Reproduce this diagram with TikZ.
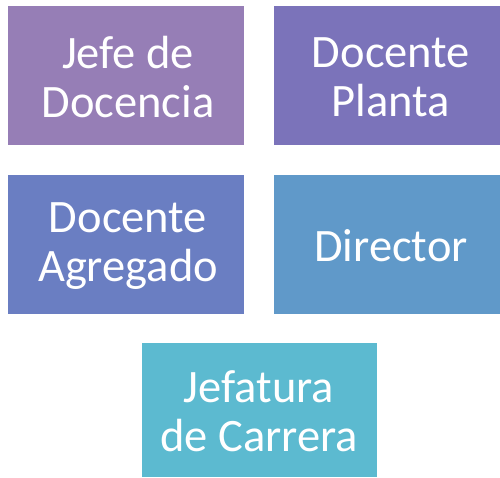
\documentclass[tikz,border=0pt]{standalone}
\usepackage{fontspec}
\setmainfont{Carlito}
\definecolor{cA}{HTML}{967EB6}
\definecolor{cB}{HTML}{7B73BA}
\definecolor{cC}{HTML}{6A7EC2}
\definecolor{cD}{HTML}{6099C9}
\definecolor{cE}{HTML}{5CBAD0}
\tikzset{
  boxnode/.style={text=white, align=center, inner sep=0pt,
    font=\fontsize{46.5}{49}\selectfont}
}
\begin{document}
\begin{tikzpicture}[x=1pt,y=-1pt]
\useasboundingbox (0,0) rectangle (500,478);
\fill[cA] (8,6) rectangle (244,145);
\fill[cB] (274,6) rectangle (500,145);
\fill[cC] (8,175) rectangle (244,314);
\fill[cD] (274,175) rectangle (500,314);
\fill[cE] (142,343) rectangle (377,477);
\node[boxnode] (jefe) at (128,77) {Jefe de\\Docencia};
\node[boxnode] (planta) at (391,77) {Docente\\Planta};
\node[boxnode] (agregado) at (128,246) {Docente\\Agregado};
\node[boxnode] (director) at (391,246) {Director};
\node[boxnode] (jefatura) at (259,411) {Jefatura\\de Carrera};
\end{tikzpicture}
\end{document}
